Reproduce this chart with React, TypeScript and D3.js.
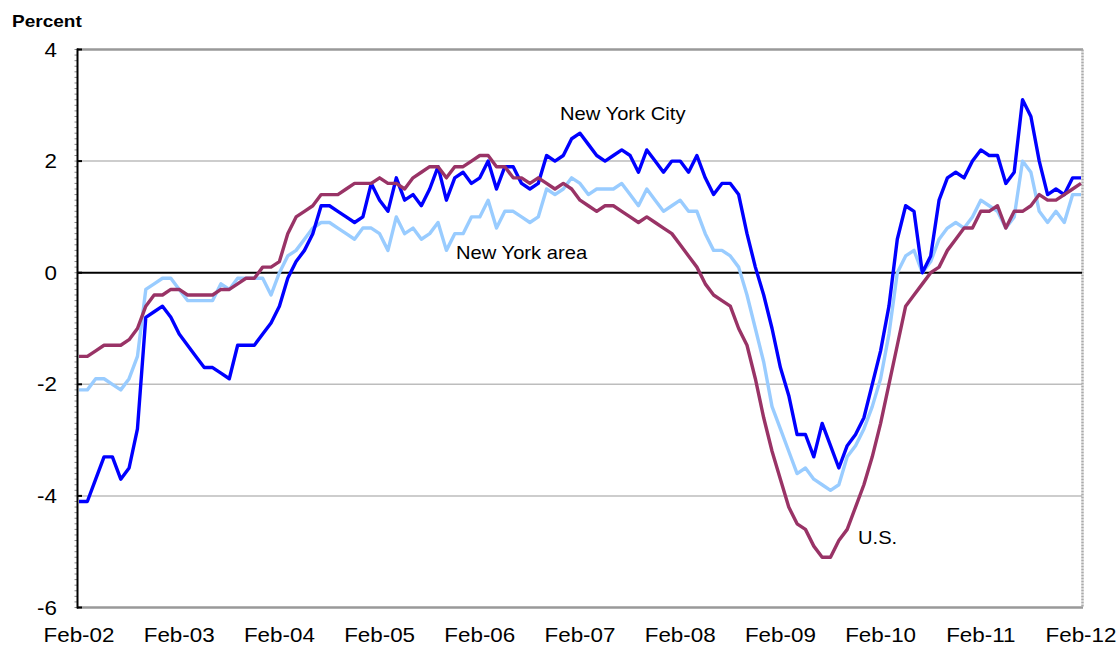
import * as React from "react";
import * as d3 from "d3";

// monthly, Feb-02 .. Feb-12 (121 points), percent change from a year earlier
const nycValues = [
  -4.1, -4.1, -3.7, -3.3, -3.3, -3.7, -3.5, -2.8, -0.8, -0.7, -0.6, -0.8,
  -1.1, -1.3, -1.5, -1.7, -1.7, -1.8, -1.9, -1.3, -1.3, -1.3, -1.1, -0.9,
  -0.6, -0.1, 0.2, 0.4, 0.7, 1.2, 1.2, 1.1, 1.0, 0.9, 1.0, 1.6,
  1.3, 1.1, 1.7, 1.3, 1.4, 1.2, 1.5, 1.9, 1.3, 1.7, 1.8, 1.6,
  1.7, 2.0, 1.5, 1.9, 1.9, 1.6, 1.5, 1.6, 2.1, 2.0, 2.1, 2.4,
  2.5, 2.3, 2.1, 2.0, 2.1, 2.2, 2.1, 1.8, 2.2, 2.0, 1.8, 2.0,
  2.0, 1.8, 2.1, 1.7, 1.4, 1.6, 1.6, 1.4, 0.7, 0.1, -0.4, -1.0,
  -1.7, -2.2, -2.9, -2.9, -3.3, -2.7, -3.1, -3.5, -3.1, -2.9, -2.6, -2.0,
  -1.4, -0.6, 0.6, 1.2, 1.1, 0.0, 0.3, 1.3, 1.7, 1.8, 1.7, 2.0,
  2.2, 2.1, 2.1, 1.6, 1.8, 3.1, 2.8, 2.0, 1.4, 1.5, 1.4, 1.7,
  1.7,
];

const areaValues = [
  -2.1, -2.1, -1.9, -1.9, -2.0, -2.1, -1.9, -1.5, -0.3, -0.2, -0.1, -0.1,
  -0.3, -0.5, -0.5, -0.5, -0.5, -0.2, -0.3, -0.1, -0.1, -0.1, -0.1, -0.4,
  0.0, 0.3, 0.4, 0.6, 0.8, 0.9, 0.9, 0.8, 0.7, 0.6, 0.8, 0.8,
  0.7, 0.4, 1.0, 0.7, 0.8, 0.6, 0.7, 0.9, 0.4, 0.7, 0.7, 1.0,
  1.0, 1.3, 0.8, 1.1, 1.1, 1.0, 0.9, 1.0, 1.5, 1.4, 1.5, 1.7,
  1.6, 1.4, 1.5, 1.5, 1.5, 1.6, 1.4, 1.2, 1.5, 1.3, 1.1, 1.2,
  1.3, 1.1, 1.1, 0.7, 0.4, 0.4, 0.3, 0.1, -0.4, -1.0, -1.6, -2.4,
  -2.8, -3.2, -3.6, -3.5, -3.7, -3.8, -3.9, -3.8, -3.3, -3.1, -2.8, -2.4,
  -1.9, -1.1, 0.0, 0.3, 0.4, 0.0, 0.2, 0.6, 0.8, 0.9, 0.8, 1.0,
  1.3, 1.2, 1.1, 0.8, 1.0, 2.0, 1.8, 1.1, 0.9, 1.1, 0.9, 1.4,
  1.4,
];

const usValues = [
  -1.5, -1.5, -1.4, -1.3, -1.3, -1.3, -1.2, -1.0, -0.6, -0.4, -0.4, -0.3,
  -0.3, -0.4, -0.4, -0.4, -0.4, -0.3, -0.3, -0.2, -0.1, -0.1, 0.1, 0.1,
  0.2, 0.7, 1.0, 1.1, 1.2, 1.4, 1.4, 1.4, 1.5, 1.6, 1.6, 1.6,
  1.7, 1.6, 1.6, 1.5, 1.7, 1.8, 1.9, 1.9, 1.7, 1.9, 1.9, 2.0,
  2.1, 2.1, 1.9, 1.9, 1.7, 1.7, 1.6, 1.7, 1.6, 1.5, 1.6, 1.5,
  1.3, 1.2, 1.1, 1.2, 1.2, 1.1, 1.0, 0.9, 1.0, 0.9, 0.8, 0.7,
  0.5, 0.3, 0.1, -0.2, -0.4, -0.5, -0.6, -1.0, -1.3, -1.9, -2.6, -3.2,
  -3.7, -4.2, -4.5, -4.6, -4.9, -5.1, -5.1, -4.8, -4.6, -4.2, -3.8, -3.3,
  -2.7, -2.0, -1.3, -0.6, -0.4, -0.2, 0.0, 0.1, 0.4, 0.6, 0.8, 0.8,
  1.1, 1.1, 1.2, 0.8, 1.1, 1.1, 1.2, 1.4, 1.3, 1.3, 1.4, 1.5,
  1.6,
];

const tickLabels = [
  "Feb-02", "Feb-03", "Feb-04", "Feb-05", "Feb-06", "Feb-07",
  "Feb-08", "Feb-09", "Feb-10", "Feb-11", "Feb-12",
];
const yTicks = [-6, -4, -2, 0, 2, 4];

const W = 1116;
const H = 645;
const FONT = "'Liberation Sans', Arial, sans-serif";
const STRETCH = 1.12; // the source picture is a little wider than tall

const App = () => {
  const x = d3.scaleLinear().domain([0, nycValues.length - 1]).range([79, 1081]);
  const y = d3.scaleLinear().domain([-6, 4]).range([607.5, 49.5]);

  const line = d3
    .line<number>()
    .x((_, i) => x(i))
    .y((d) => y(d));

  const minorTicks = d3.range(-6, 4.001, 0.1);

  const label = (txt: string, tx: number, ty: number, anchor: string, size: number, bold = false) => (
    <text
      transform={`translate(${tx},${ty}) scale(${STRETCH},1)`}
      textAnchor={anchor}
      fontSize={size}
      fontWeight={bold ? "bold" : "normal"}
      fontFamily={FONT}
      fill="#000"
    >
      {txt}
    </text>
  );

  return (
    <svg
      width={W}
      height={H}
      style={{ position: "absolute", left: 0, top: 0, background: "#fff" }}
    >
      {/* gridlines */}
      {[-4, -2, 2].map((t) => (
        <line key={t} x1={77} x2={1082} y1={y(t)} y2={y(t)} stroke="#bdbdbd" strokeWidth={1.5} />
      ))}
      <line x1={77} x2={1083} y1={y(4)} y2={y(4)} stroke="#999" strokeWidth={2.5} />
      <line x1={77} x2={1083} y1={y(-6)} y2={y(-6)} stroke="#999" strokeWidth={2.5} />
      <line x1={1082.5} x2={1082.5} y1={y(4)} y2={y(-6)} stroke="#aaa" strokeWidth={2.5} strokeDasharray="2,1" />

      {/* left axis with minor ticks */}
      {minorTicks.map((t, i) => (
        <line key={i} x1={74.5} x2={77} y1={y(t)} y2={y(t)} stroke="#888" strokeWidth={1} />
      ))}
      <line x1={77.5} x2={77.5} y1={y(4) - 1} y2={y(-6) + 1} stroke="#000" strokeWidth={2} />
      {yTicks.map((t) => (
        <line key={t} x1={77} x2={82} y1={y(t)} y2={y(t)} stroke="#000" strokeWidth={2} />
      ))}
      <line x1={77} x2={1082} y1={y(0)} y2={y(0)} stroke="#000" strokeWidth={2} />

      {/* series */}
      <path d={line(areaValues) || ""} fill="none" stroke="#99ccff" strokeWidth={3.4} strokeLinejoin="round" />
      <path d={line(nycValues) || ""} fill="none" stroke="#0000ff" strokeWidth={3.4} strokeLinejoin="round" />
      <path d={line(usValues) || ""} fill="none" stroke="#993366" strokeWidth={3.4} strokeLinejoin="round" />

      {/* y labels */}
      {yTicks.map((t) => (
        <React.Fragment key={t}>{label(String(t), 57, y(t) + 7, "end", 20)}</React.Fragment>
      ))}
      {/* x labels */}
      {tickLabels.map((t, k) => (
        <React.Fragment key={t}>{label(t, x(k * 12), 642, "middle", 20)}</React.Fragment>
      ))}

      {label("Percent", 12, 26.5, "start", 17, true)}
      {label("New York City", 560, 119.5, "start", 18)}
      {label("New York area", 456, 259, "start", 18)}
      {label("U.S.", 858, 544, "start", 18)}
    </svg>
  );
};

export default App;
